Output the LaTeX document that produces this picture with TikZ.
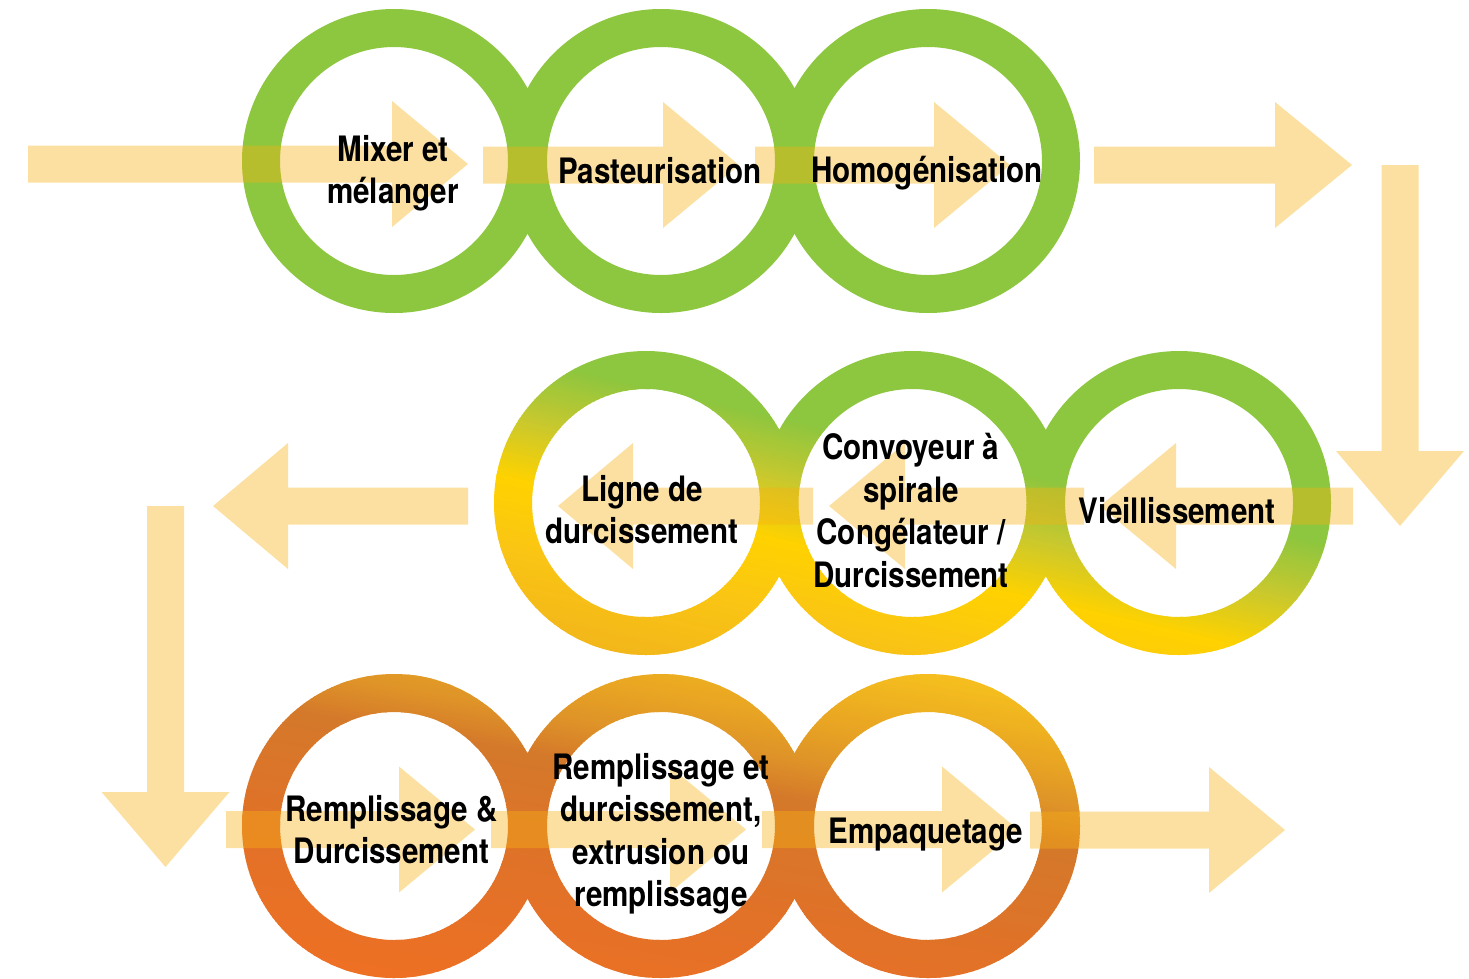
\documentclass[tikz,border=0pt]{standalone}
\usepackage{fontspec}
\newfontfamily\labfont{TeX Gyre Heros}[FakeStretch=0.845]
\definecolor{grn}{HTML}{8DC63F}
\definecolor{ygr}{HTML}{C8C82E}
\definecolor{yel}{HTML}{FFD200}
\definecolor{yor}{HTML}{FAC514}
\definecolor{orY}{HTML}{EEAE1E}
\definecolor{gold}{HTML}{F5BE1E}
\definecolor{gold2}{HTML}{EAA822}
\definecolor{gbr}{HTML}{DE9228}
\definecolor{brn}{HTML}{D4782A}
\definecolor{orm}{HTML}{E07228}
\definecolor{orb}{HTML}{F26F22}
\definecolor{arrowc}{RGB}{247,178,20}
\newcommand{\ringpath}[2]{(#1+152,#2) arc[start angle=0,end angle=360,radius=152] (#1+114,#2) arc[start angle=0,end angle=-360,radius=114]}
% gradient strips: #1 t0, #2 t1, #3 v0, #4 v1, #5 c0, #6 c1, #7 step
\newcommand{\gradseg}[7]{%
  \pgfmathtruncatemacro\gsn{round((#4-#3)/#7)}%
  \foreach \i in {0,...,\gsn}{%
    \pgfmathsetmacro\gsv{#3+\i*#7}%
    \pgfmathsetmacro\gsw{#3+\i*#7+#7+0.8}%
    \pgfmathtruncatemacro\gsp{round(100*\i/\gsn)}%
    \fill[fill={#6!\gsp!#5}] (#1,\gsv) -- (#2,\gsv) -- (#2,\gsw) -- (#1,\gsw) -- cycle;
  }}
% block arrows: horizontal (#1 start x, #2 head base x, #3 tip x, #4 centre y)
\newcommand{\blkH}[4]{\fill[blockarrow] (#1,#4-18.5) -- (#2,#4-18.5) -- (#2,#4-63) -- (#3,#4) -- (#2,#4+63) -- (#2,#4+18.5) -- (#1,#4+18.5) -- cycle;}
% vertical (#1 start y, #2 head base y, #3 tip y, #4 centre x)
\newcommand{\blkV}[4]{\fill[blockarrow] (#4-18.5,#1) -- (#4-18.5,#2) -- (#4-64,#2) -- (#4,#3) -- (#4+64,#2) -- (#4+18.5,#2) -- (#4+18.5,#1) -- cycle;}
\tikzset{
  blockarrow/.style={fill=arrowc, fill opacity=0.4},
  lab/.style={font=\labfont\bfseries\fontsize{35}{42.5}\selectfont, align=center, inner sep=0pt, anchor=north, text=black}
}
\begin{document}
\begin{tikzpicture}[x=1pt,y=-1pt]
\useasboundingbox (0,0) rectangle (1469,978);
% ---- row 1 rings (green)
\fill[grn] \ringpath{394}{161} \ringpath{661}{161} \ringpath{928}{161};
% ---- row 2 rings (green -> yellow gradient)
\begin{scope}
  \clip \ringpath{646}{503} \ringpath{912.5}{503} \ringpath{1179}{503};
  \begin{scope}[x={(0.9744pt,-0.2250pt)}, y={(-0.2250pt,-0.9744pt)}]
    \fill[grn] (540,20) -- (1460,20) -- (1460,231) -- (540,231) -- cycle;
    \gradseg{540}{1460}{230}{290}{grn}{ygr}{3}
    \gradseg{540}{1460}{290}{350}{ygr}{yel}{3}
    \gradseg{540}{1460}{350}{420}{yel}{yor}{3}
    \gradseg{540}{1460}{420}{540}{yor}{orY}{3}
  \end{scope}
\end{scope}
% ---- row 3 rings (gold -> orange gradient)
\begin{scope}
  \clip \ringpath{394}{826} \ringpath{661}{826} \ringpath{928}{826};
  \begin{scope}[x={(0.9848pt,-0.1736pt)}, y={(-0.1736pt,-0.9848pt)}]
    \fill[gold] (320,450) -- (1270,450) -- (1270,506) -- (320,506) -- cycle;
    \gradseg{320}{1270}{505}{560}{gold}{gold2}{3}
    \gradseg{320}{1270}{560}{610}{gold2}{gbr}{3}
    \gradseg{320}{1270}{610}{650}{gbr}{brn}{3}
    \gradseg{320}{1270}{650}{760}{brn}{orm}{3}
    \gradseg{320}{1270}{760}{940}{orm}{orb}{3}
  \end{scope}
\end{scope}
% ---- block arrows
\blkH{28}{392}{468}{164}
\blkH{483}{663}{739}{165}
\blkH{755}{934}{1010}{165}
\blkH{1094}{1275}{1352}{165}
\blkV{165}{451}{526}{1400}
\blkH{1353}{1176}{1100}{506}
\blkH{1084}{905}{829}{506}
\blkH{813}{633}{558}{506}
\blkH{468}{288}{213}{506}
\blkV{506}{792}{867}{165.5}
\blkH{226}{399}{475}{829.5}
\blkH{491}{670}{746}{829.5}
\blkH{762}{942}{1018}{829.5}
\blkH{1030}{1209}{1285}{830}
% ---- labels
\node[lab] (t1) at (393,135) {Mixer et\\mélanger};
\node[lab] (t2) at (660,157) {Pasteurisation};
\node[lab] (t3) at (927,156) {Homogénisation};
\node[lab] (t4) at (642,475) {Ligne de\\durcissement};
\node[lab] (t5) at (911,433) {Convoyeur à\\spirale\\Congélateur /\\Durcissement};
\node[lab] (t6) at (1177,497) {Vieillissement};
\node[lab] (t7) at (391.5,795) {Remplissage \&\\Durcissement};
\node[lab] (t8) at (661,753) {Remplissage et\\durcissement,\\extrusion ou\\remplissage};
\node[lab] (t9) at (926,818) {Empaquetage};
\end{tikzpicture}
\end{document}
